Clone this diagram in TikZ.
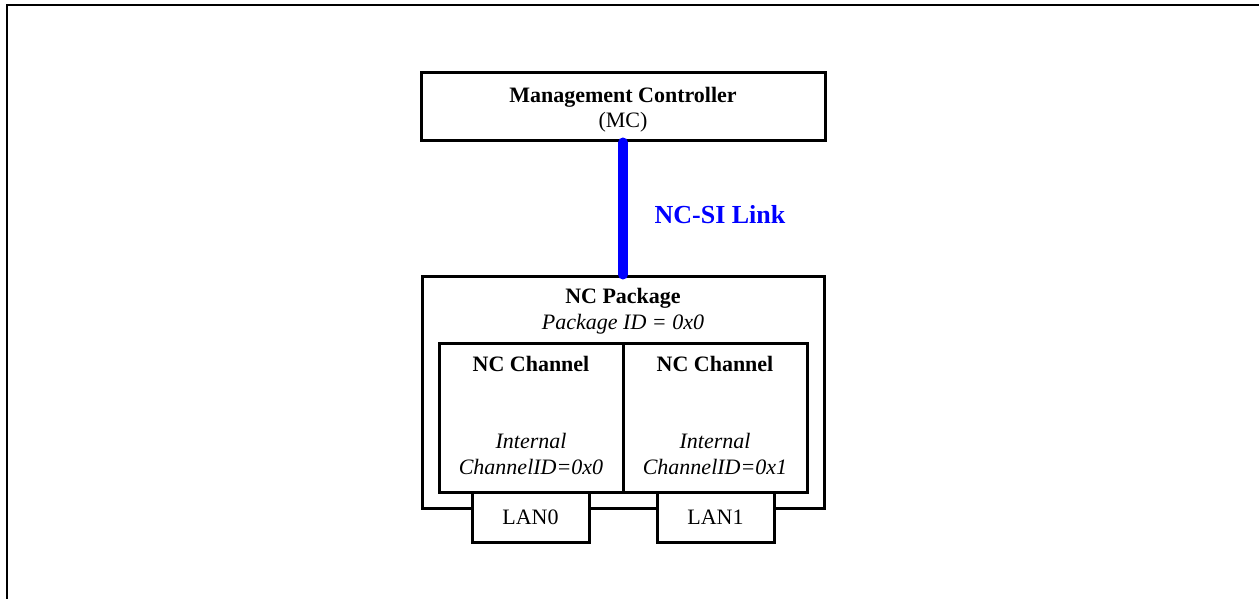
\documentclass[tikz,border=0pt]{standalone}
\usepackage{fontspec}
\setmainfont{Liberation Serif}
\begin{document}
\begin{tikzpicture}[x=1pt,y=-1pt,
  box/.style={draw, line width=3pt, inner sep=0pt, fill=white},
  txt/.style={inner sep=0pt, anchor=base, font=\fontsize{22}{26}\selectfont},
  boldtxt/.style={txt, font=\fontsize{22}{26}\selectfont\bfseries},
  itxt/.style={txt, font=\fontsize{22}{26}\selectfont\itshape},
  linktxt/.style={inner sep=0pt, anchor=base, text=blue, font=\fontsize{26}{30}\selectfont\bfseries},
  ncsi/.style={draw=blue, line width=10pt, line cap=round},
  frame/.style={draw, line width=2.5pt}
]
\useasboundingbox (0,0) rectangle (1259,599);
\coordinate (fbl) at (7,599);
\coordinate (ftl) at (7,5);
\coordinate (ftr) at (1259,5);
\draw[frame] (fbl) -- (ftl) -- (ftr);

% Management Controller
\node[box, minimum width=404pt, minimum height=68pt] (mc) at (623,107) {};
\node[boldtxt] (mcname) at (623,103) {Management Controller};
\node[txt] (mcabbr) at (623,128) {(MC)};

% NC Package
\node[box, minimum width=402pt, minimum height=232pt] (pkg) at (623.5,392) {};
\node[boldtxt] (pkgname) at (623,303) {NC Package};
\node[itxt] (pkgid) at (623,329) {Package ID = 0x0};

% LAN ports
\node[box, minimum width=117pt, minimum height=50pt, font=\fontsize{22}{26}\selectfont] (lan0) at (530.5,517) {LAN0};
\node[box, minimum width=117pt, minimum height=50pt, font=\fontsize{22}{26}\selectfont] (lan1) at (715.5,517) {LAN1};

% Channels
\node[box, minimum width=184pt, minimum height=149pt] (ch0) at (531,417.5) {};
\node[box, minimum width=184pt, minimum height=149pt] (ch1) at (715,417.5) {};
\node[boldtxt] (ch0name) at (531,371) {NC Channel};
\node[boldtxt] (ch1name) at (715,371) {NC Channel};
\node[itxt] (ch0a) at (531,448) {Internal};
\node[itxt] (ch0b) at (531,474) {ChannelID=0x0};
\node[itxt] (ch1a) at (715,448) {Internal};
\node[itxt] (ch1b) at (715,474) {ChannelID=0x1};

% NC-SI link
\draw[ncsi] (mc.south) -- (mc.south |- pkg.north);
\node[linktxt] (linklabel) at (720,223) {NC-SI Link};
\end{tikzpicture}
\end{document}
